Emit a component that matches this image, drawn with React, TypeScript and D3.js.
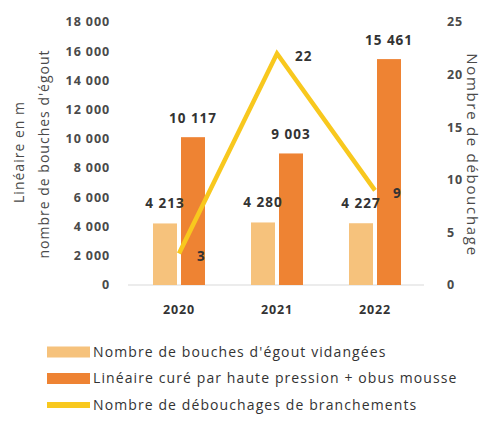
import React from "react";
import * as d3 from "d3";

const years = ["2020", "2021", "2022"];
const bouches = [4213, 4280, 4227];
const lineaire = [10117, 9003, 15461];
const debouchages = [3, 22, 9];
const leftTicks = [0, 2000, 4000, 6000, 8000, 10000, 12000, 14000, 16000, 18000];
const rightTicks = [0, 5, 10, 15, 20, 25];
const legendLabels = [
  "Nombre de bouches d'égout vidangées",
  "Linéaire curé par haute pression + obus mousse",
  "Nombre de débouchages de branchements",
];

const FONT = "'Open Sans', Lato, sans-serif";
const TXT = "#333333";
const AX = "#4a4a4a";
const C_LIGHT = "#F6C27C";
const C_ORANGE = "#EE8333";
const C_LINE = "#F8C81E";

const fmt = (v: number) => d3.format(",")(v).replace(/,/g, " ");

export default function App() {
  const x = d3.scaleBand().domain(years).range([130, 424]).padding(0);
  const yL = d3.scaleLinear().domain([0, 18000]).range([285, 22]);
  const yR = d3.scaleLinear().domain([0, 25]).range([285, 22]);
  const cx = (y: string) => (x(y) as number) + x.bandwidth() / 2;
  const bw = 24;
  const line = d3
    .line<number>()
    .x((_, i) => cx(years[i]))
    .y((d) => yR(d));

  return (
    <svg
      width={485}
      height={428}
      style={{ position: "absolute", left: 0, top: 0, background: "#fff" }}
      fontFamily={FONT}
    >
      {/* baseline */}
      <line x1={128} x2={424} y1={yL(0)} y2={yL(0)} stroke="#d9d9d9" strokeWidth={1} />

      {/* left ticks */}
      {leftTicks.map((t) => (
        <text key={t} x={110} y={yL(t)} dy="0.35em" textAnchor="end" fontSize={12.5} fontWeight={700} letterSpacing={0.9} fill={AX}>
          {fmt(t)}
        </text>
      ))}
      {/* right ticks */}
      {rightTicks.map((t) => (
        <text key={t} x={447} y={yR(t)} dy="0.35em" textAnchor="start" fontSize={12.5} fontWeight={700} letterSpacing={0.9} fill={AX}>
          {t}
        </text>
      ))}

      {/* axis titles */}
      <text transform="translate(24,152) rotate(-90)" textAnchor="middle" fontSize={14} letterSpacing={1} fill={AX}>
        Linéaire en m
      </text>
      <text transform="translate(49,154) rotate(-90)" textAnchor="middle" fontSize={14} letterSpacing={1} fill={AX}>
        nombre de bouches d'égout
      </text>
      <text transform="translate(467,155) rotate(90)" textAnchor="middle" fontSize={15} letterSpacing={1.7} fill={AX}>
        Nombre de débouchage
      </text>

      {/* bars */}
      {years.map((yr, i) => (
        <g key={yr}>
          <rect x={cx(yr) - bw - 2} y={yL(bouches[i])} width={bw} height={yL(0) - yL(bouches[i])} fill={C_LIGHT} />
          <rect x={cx(yr) + 2} y={yL(lineaire[i])} width={bw} height={yL(0) - yL(lineaire[i])} fill={C_ORANGE} />
        </g>
      ))}

      {/* line */}
      <path d={line(debouchages) || ""} fill="none" stroke={C_LINE} strokeWidth={4.5} strokeLinejoin="miter" />

      {/* bar labels */}
      {years.map((yr, i) => (
        <g key={"l" + yr} fontSize={13.5} fontWeight={700} fill={TXT} letterSpacing={1} textAnchor="middle">
          <text x={cx(yr) - bw / 2 - 2} y={yL(bouches[i]) - 20} dy="0.35em">
            {fmt(bouches[i])}
          </text>
          <text x={cx(yr) + bw / 2 + 2} y={yL(lineaire[i]) - 19} dy="0.35em">
            {fmt(lineaire[i])}
          </text>
          <text x={cx(yr) + 18} y={yR(debouchages[i]) + 3} dy="0.35em" textAnchor="start">
            {debouchages[i]}
          </text>
        </g>
      ))}

      {/* x labels */}
      {years.map((yr) => (
        <text key={"x" + yr} x={cx(yr)} y={310} dy="0.35em" textAnchor="middle" fontSize={12.5} fontWeight={700} letterSpacing={0.8} fill={TXT}>
          {yr}
        </text>
      ))}

      {/* legend */}
      {legendLabels.map((lab, i) => {
        const y = 352 + i * 26.5;
        const col = [C_LIGHT, C_ORANGE, C_LINE][i];
        return (
          <g key={lab}>
            {i < 2 ? (
              <rect x={47} y={y - 5.5} width={43} height={11} fill={col} />
            ) : (
              <rect x={47} y={y - 3} width={43} height={6} fill={col} />
            )}
            <text x={93} y={y} dy="0.35em" fontSize={14} letterSpacing={1.1} fill={TXT}>
              {lab}
            </text>
          </g>
        );
      })}
    </svg>
  );
}
